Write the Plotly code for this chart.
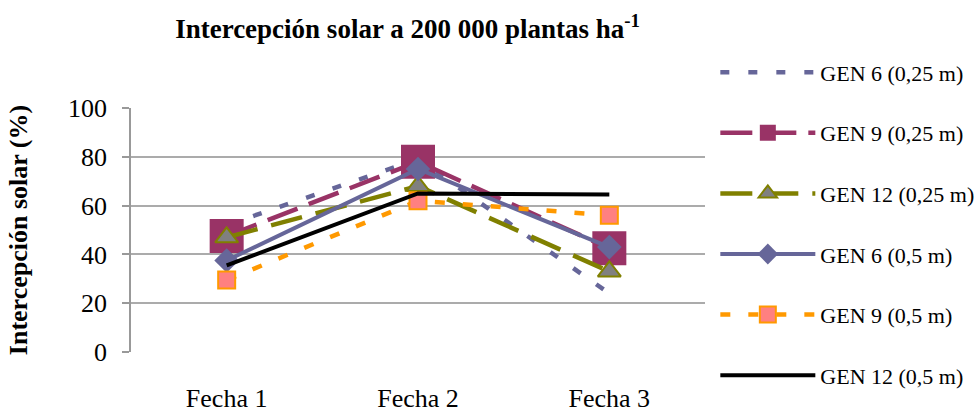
import plotly.graph_objects as go

categories = ["Fecha 1", "Fecha 2", "Fecha 3"]
series_names = ["GEN 6 (0,25 m)", "GEN 9 (0,25 m)", "GEN 12 (0,25 m)",
                "GEN 6 (0,5 m)", "GEN 9 (0,5 m)", "GEN 12 (0,5 m)"]
gen6_025 = [52, 79, 24]
gen9_025 = [47.5, 78, 42.5]
gen12_025 = [47, 68, 33]
gen6_05 = [37.5, 75, 43]
gen9_05 = [29.5, 62, 56]
gen12_05 = [35.5, 65, 64.5]
y_ticks = [0, 20, 40, 60, 80, 100]

FONT = "Liberation Serif, Times New Roman, serif"

styles = [
    dict(line=dict(color="#666699", width=4.5, dash="9px,19px"), mode="lines", marker=None),
    dict(line=dict(color="#993366", width=4.5, dash="32px,12px"), mode="lines+markers",
         marker=dict(symbol="square", size=34, color="#993366", line=dict(width=0))),
    dict(line=dict(color="#808000", width=4.5, dash="32px,14px"), mode="lines+markers",
         marker=dict(symbol="triangle-up", size=20, color="#808080", line=dict(color="#808000", width=2))),
    dict(line=dict(color="#666699", width=4), mode="lines+markers",
         marker=dict(symbol="diamond", size=19, color="#666699", line=dict(width=0))),
    dict(line=dict(color="#FF9900", width=4.5, dash="10px,18px"), mode="lines+markers",
         marker=dict(symbol="square", size=17, color="#FF8080", line=dict(color="#FF9900", width=2))),
    dict(line=dict(color="#000000", width=4), mode="lines", marker=None),
]
values = [gen6_025, gen9_025, gen12_025, gen6_05, gen9_05, gen12_05]

fig = go.Figure()
for i, (name, vals, st) in enumerate(zip(series_names, values, styles)):
    kw = dict(x=categories, y=vals, name=name, mode=st["mode"], line=st["line"],
              legendgroup=f"g{i}")
    if st["marker"] is not None:
        kw["marker"] = st["marker"]
    fig.add_trace(go.Scatter(**kw))

fig.update_layout(
    width=975, height=412,
    margin=dict(l=131, r=270, t=108, b=60, autoexpand=False),
    plot_bgcolor="white", paper_bgcolor="white",
    font=dict(family=FONT, size=26, color="black"),
    title=dict(text="<b>Intercepción solar a 200 000 plantas ha<sup>-1</sup></b>",
               x=0.418, xref="container", xanchor="center",
               y=0.931, yref="container", yanchor="middle",
               font=dict(family=FONT, size=27, color="black")),
    legend=dict(x=1.018, xanchor="left", y=1.232, yanchor="top",
                font=dict(family=FONT, size=22, color="black"),
                itemwidth=95, tracegroupgap=29, itemsizing="trace",
                maxheight=1, bgcolor="rgba(0,0,0,0)"),
    showlegend=True,
)
fig.update_xaxes(
    type="category", range=[-0.5, 2.5], showgrid=False, showline=False, zeroline=False,
    ticks="", tickfont=dict(family=FONT, size=26, color="black"),
    ticklabelstandoff=28, automargin=False,
)
fig.update_yaxes(
    range=[0, 100], tickvals=y_ticks, showgrid=True, gridcolor="#ABABAB", gridwidth=1.5,
    showline=True, linecolor="#999999", linewidth=1.5, zeroline=False,
    ticks="outside", ticklen=7, tickcolor="#999999", tickwidth=1.5,
    tickfont=dict(family=FONT, size=26, color="black"), ticklabelstandoff=10,
    automargin=False,
    title=dict(text="<b>Intercepción solar (%)</b>", font=dict(family=FONT, size=26, color="black"),
               standoff=33),
)
fig.write_html("out.html", config={"displayModeBar": False},
               post_script="document.body.style.margin='0';")
